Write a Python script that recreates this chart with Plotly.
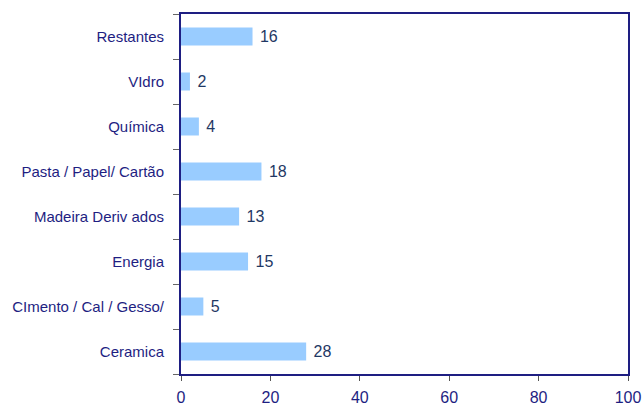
import plotly.graph_objects as go

categories = ["Ceramica", "CImento / Cal / Gesso/", "Energia", "Madeira Deriv ados",
              "Pasta / Papel/ Cartão", "Química", "VIdro", "Restantes"]
values = [28, 5, 15, 13, 18, 4, 2, 16]
x_ticks = [0, 20, 40, 60, 80, 100]

navy = "#1E1E82"
fig = go.Figure(go.Bar(
    x=values, y=categories, orientation="h",
    marker=dict(color="#99CCFF", line=dict(width=0)),
    width=0.4,
    text=["\u00a0" + str(v) for v in values], textposition="outside",
    textfont=dict(family="Liberation Sans, Arial", size=16, color="#1F3864"),
    cliponaxis=False,
))
fig.update_layout(
    width=643, height=407,
    margin=dict(l=181, r=15, t=14, b=33, autoexpand=False),
    plot_bgcolor="white", paper_bgcolor="white",
    showlegend=False,
    font=dict(family="Liberation Sans, Arial", size=14, color=navy),
    xaxis=dict(range=[0, 100], tickvals=x_ticks, showgrid=False, zeroline=False,
               showline=True, linecolor=navy, linewidth=2, mirror=True,
               ticks="outside", ticklen=5, tickcolor="#555555", automargin=False,
               ticklabelstandoff=3,
               tickfont=dict(size=16, color=navy)),
    yaxis=dict(categoryorder="array", categoryarray=categories,
               showgrid=False, showline=True, linecolor=navy, linewidth=2, mirror=True,
               ticks="outside", ticklen=6, tickcolor="#666666", tickson="boundaries",
               automargin=False, ticklabelstandoff=12,
               tickfont=dict(size=15, color=navy)),
)
fig.write_html("out.html", config={"displayModeBar": False},
               post_script="document.body.style.margin='0';document.body.style.padding='0';")
